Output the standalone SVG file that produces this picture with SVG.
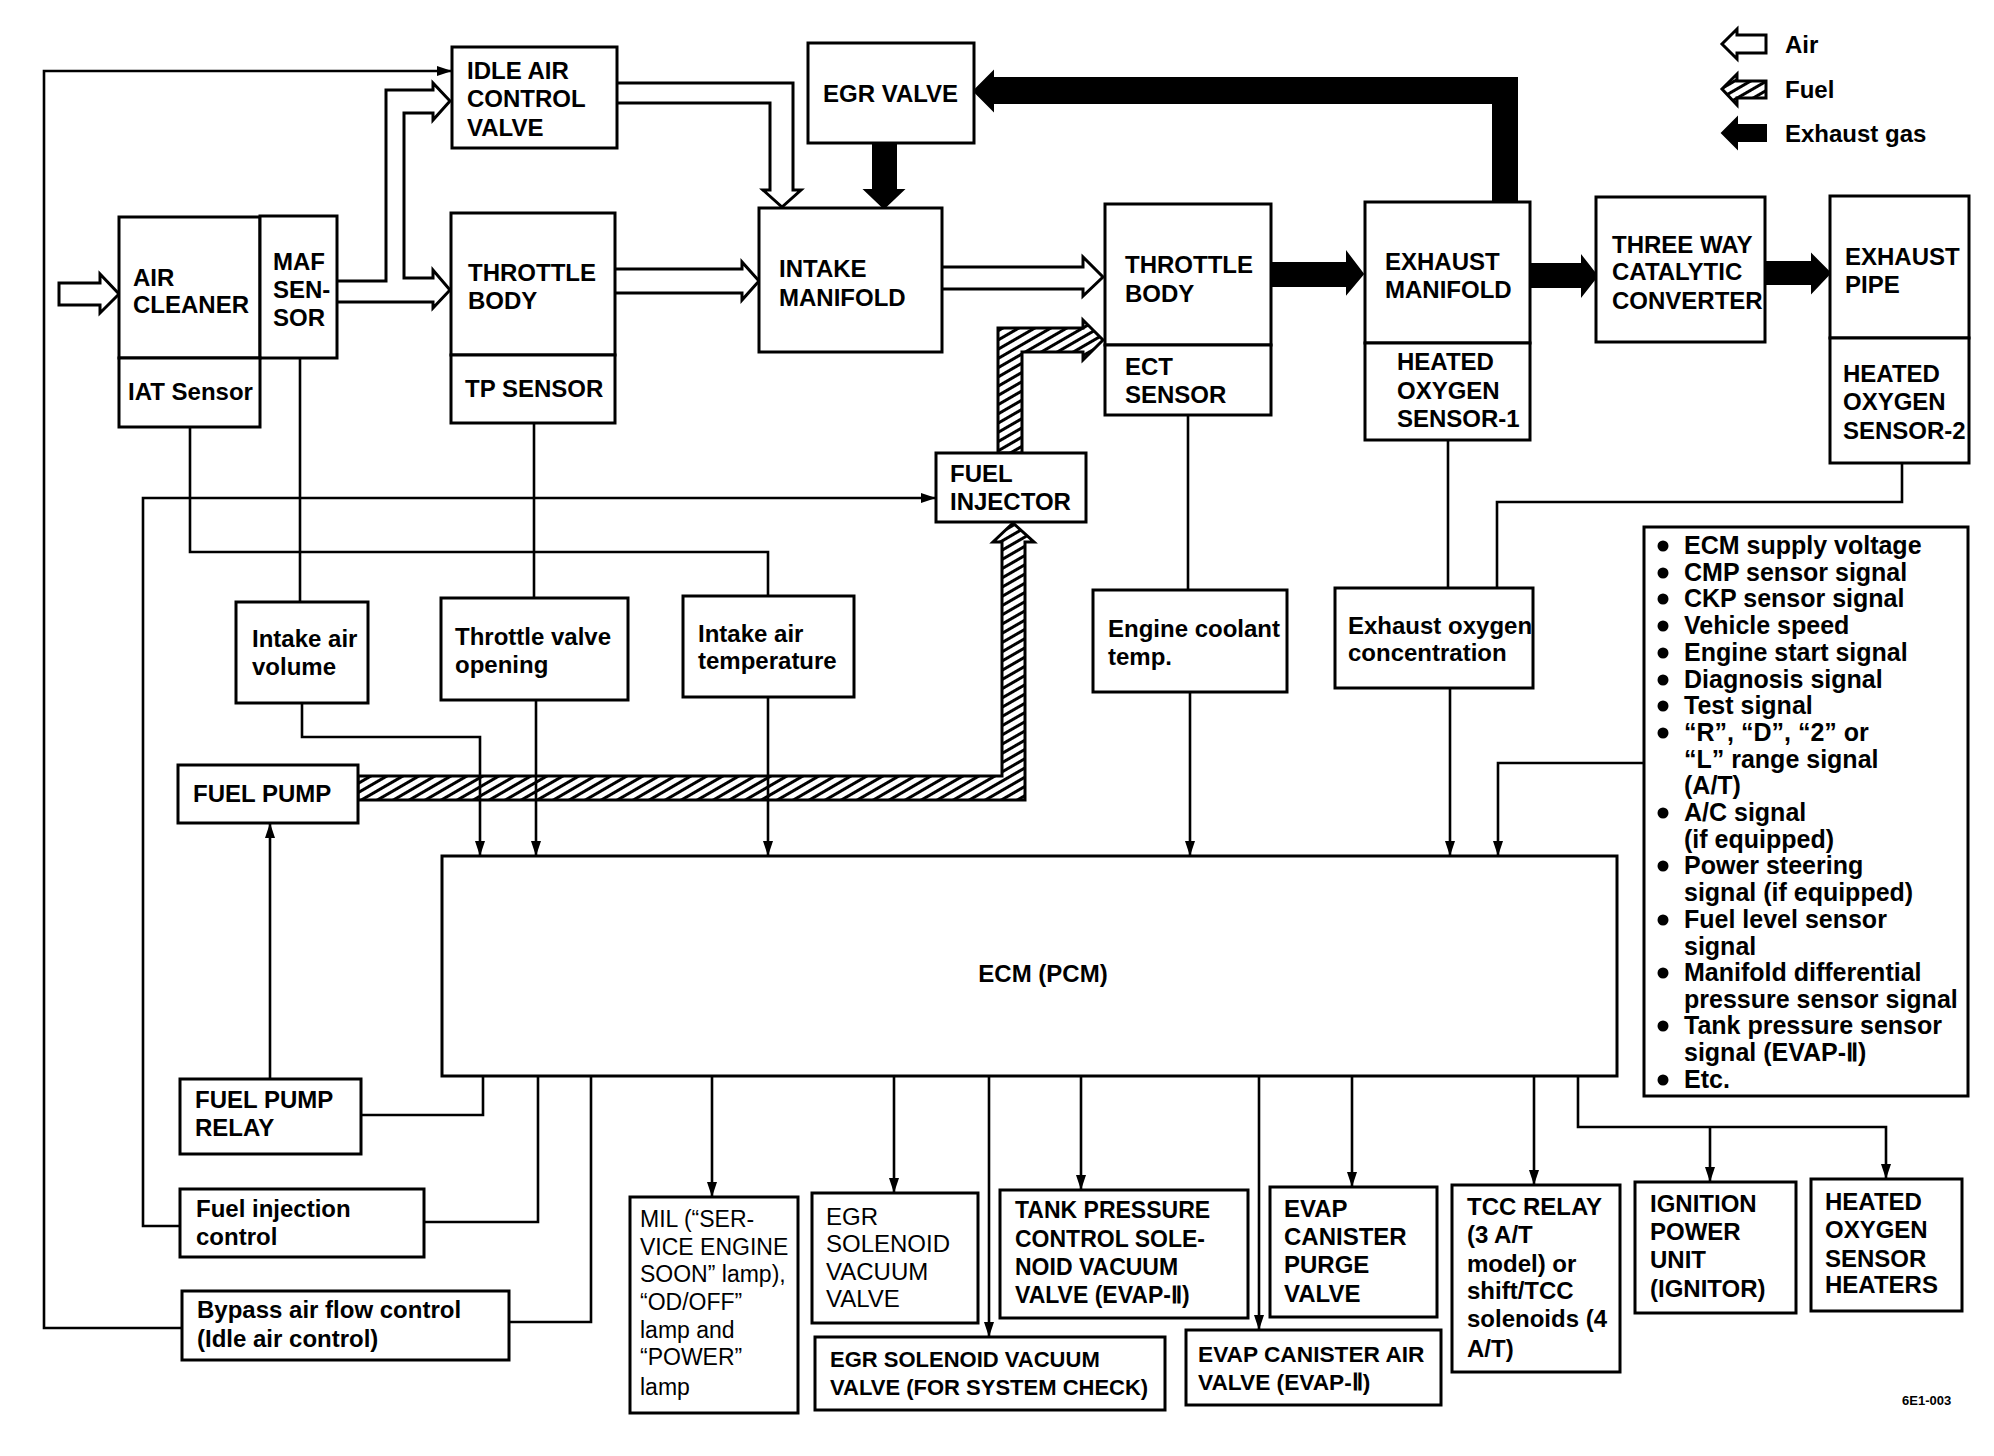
<svg xmlns="http://www.w3.org/2000/svg" width="1994" height="1456" viewBox="0 0 1994 1456">
<defs>
<style>
.box{fill:#fff;stroke:#000;stroke-width:3}
.ln{fill:none;stroke:#000;stroke-width:2.6}
.air{fill:#fff;stroke:#000;stroke-width:3;stroke-linejoin:miter}
.ex{fill:#000;stroke:#000;stroke-width:2}
.fuel{fill:url(#hatch);stroke:#000;stroke-width:3}
text{font-family:"Liberation Sans",Arial,sans-serif;font-size:24px;font-weight:bold;fill:#000}
.nw{font-weight:normal}
.s22{font-size:22px}
.s225{font-size:22.7px}
.s23{font-size:23px}
.bl{font-size:25px}
.code{font-size:13px}
</style>
<pattern id="hatch" patternUnits="userSpaceOnUse" width="8" height="8" patternTransform="rotate(-30)">
<rect width="8" height="8" fill="#fff"/><rect width="8" height="3" fill="#000"/>
</pattern>
<marker id="ah" markerUnits="userSpaceOnUse" markerWidth="15" markerHeight="10" refX="15" refY="5" orient="auto">
<path d="M0,0 L15,5 L0,10 z" fill="#000"/>
</marker>
</defs>
<rect width="1994" height="1456" fill="#fff"/>

<g id="connectors">
<!-- flow arrows -->
<path class="air" d="M59,283 H100 V274 L119,294 L100,313 V305 H59 Z"/>
<path class="air" d="M337,281 H386 V90 H433 V83 L450,101 L433,120 V113 H404 V278 H433 V270 L450,290 L433,308 V302 H337"/>
<path class="air" d="M617,83 H793 V190 H801 L782,207 L763,190 H770 V103 H617"/>
<path class="air" d="M615,269 H742 V262 L759,281 L742,300 V293 H615"/>
<path class="air" d="M942,267 H1083 V257 L1103,277 L1083,296 V289 H942"/>
<path class="ex" d="M873,143 V190 H865 L884,208 L903,190 H896 V143 Z"/>
<path class="ex" d="M1517,202 V78 H993 V72 L974,91 L993,110 V103 H1493 V202 Z"/>
<path class="ex" d="M1271,263 H1347 V253 L1363,274 L1347,293 V286 H1271 Z"/>
<path class="ex" d="M1530,264 H1582 V257 L1597,276 L1582,295 V287 H1530 Z"/>
<path class="ex" d="M1765,262 H1812 V255 L1830,273 L1812,292 V284 H1765 Z"/>
<path class="fuel" d="M358,776 H1002 V542 H993 L1013,523 L1034,542 H1025 V800 H358 Z"/>
<path class="fuel" d="M998,453 V328 H1083 V320 L1103,340 L1083,360 V352 H1022 V453 Z"/>
<!-- signal lines -->
<path class="ln" d="M182,1328 H44 V71 H452" marker-end="url(#ah)"/>
<path class="ln" d="M509,1322 H591 V1076"/>
<path class="ln" d="M190,427 V552 H768 V596"/>
<path class="ln" d="M300,357 V602"/>
<path class="ln" d="M302,703 V737 H480 V856" marker-end="url(#ah)"/>
<path class="ln" d="M534,423 V598"/>
<path class="ln" d="M536,700 V856" marker-end="url(#ah)"/>
<path class="ln" d="M768,697 V856" marker-end="url(#ah)"/>
<path class="ln" d="M180,1226 H143 V498 H936" marker-end="url(#ah)"/>
<path class="ln" d="M424,1222 H538 V1076"/>
<path class="ln" d="M270,1079 V823" marker-end="url(#ah)"/>
<path class="ln" d="M361,1115 H483 V1076"/>
<path class="ln" d="M1188,415 V590"/>
<path class="ln" d="M1190,692 V856" marker-end="url(#ah)"/>
<path class="ln" d="M1448,440 V588"/>
<path class="ln" d="M1450,688 V856" marker-end="url(#ah)"/>
<path class="ln" d="M1902,463 V502 H1497 V588"/>
<path class="ln" d="M1644,763 H1498 V856" marker-end="url(#ah)"/>
<path class="ln" d="M712,1076 V1197" marker-end="url(#ah)"/>
<path class="ln" d="M894,1076 V1193" marker-end="url(#ah)"/>
<path class="ln" d="M989,1076 V1337" marker-end="url(#ah)"/>
<path class="ln" d="M1081,1076 V1190" marker-end="url(#ah)"/>
<path class="ln" d="M1259,1076 V1330" marker-end="url(#ah)"/>
<path class="ln" d="M1352,1076 V1187" marker-end="url(#ah)"/>
<path class="ln" d="M1534,1076 V1185" marker-end="url(#ah)"/>
<path class="ln" d="M1578,1076 V1127 H1886 V1179" marker-end="url(#ah)"/>
<path class="ln" d="M1710,1127 V1182" marker-end="url(#ah)"/>
</g>

<g id="legend">
<path class="air" d="M1766,35 H1737 V29 L1722,44 L1737,59 V53 H1766 Z"/>
<text x="1785" y="53">Air</text>
<path class="fuel" d="M1766,81 H1737 V74 L1722,89 L1737,105 V98 H1766 Z"/>
<text x="1785" y="98">Fuel</text>
<path class="ex" d="M1766,125 H1737 V118 L1722,133 L1737,148 V141 H1766 Z"/>
<text x="1785" y="142">Exhaust gas</text>
</g>

<g id="n-idle"><rect class="box" x="452" y="47" width="165" height="101"/>
<text><tspan x="467" y="79">IDLE AIR</tspan><tspan x="467" y="107">CONTROL</tspan><tspan x="467" y="136">VALVE</tspan></text></g>

<g id="n-egr"><rect class="box" x="808" y="43" width="166" height="100"/>
<text x="823" y="102">EGR VALVE</text></g>

<g id="n-aircleaner"><rect class="box" x="119" y="217" width="141" height="141"/>
<text><tspan x="133" y="286">AIR</tspan><tspan x="133" y="313">CLEANER</tspan></text></g>
<g id="n-maf"><rect class="box" x="260" y="216" width="77" height="142"/>
<text><tspan x="273" y="270">MAF</tspan><tspan x="273" y="298">SEN-</tspan><tspan x="273" y="326">SOR</tspan></text></g>
<g id="n-iatsensor"><rect class="box" x="119" y="358" width="141" height="69"/>
<text x="128" y="400">IAT Sensor</text></g>

<g id="n-throttle1"><rect class="box" x="451" y="213" width="164" height="142"/>
<text><tspan x="468" y="281">THROTTLE</tspan><tspan x="468" y="309">BODY</tspan></text></g>
<g id="n-tpsensor"><rect class="box" x="451" y="355" width="164" height="68"/>
<text x="465" y="397">TP SENSOR</text></g>

<g id="n-intake"><rect class="box" x="759" y="208" width="183" height="144"/>
<text><tspan x="779" y="277">INTAKE</tspan><tspan x="779" y="306">MANIFOLD</tspan></text></g>

<g id="n-throttle2"><rect class="box" x="1105" y="204" width="166" height="141"/>
<text><tspan x="1125" y="273">THROTTLE</tspan><tspan x="1125" y="302">BODY</tspan></text></g>
<g id="n-ect"><rect class="box" x="1105" y="345" width="166" height="70"/>
<text><tspan x="1125" y="375">ECT</tspan><tspan x="1125" y="403">SENSOR</tspan></text></g>

<g id="n-exhman"><rect class="box" x="1365" y="202" width="165" height="141"/>
<text><tspan x="1385" y="270">EXHAUST</tspan><tspan x="1385" y="298">MANIFOLD</tspan></text></g>
<g id="n-ho2s1"><rect class="box" x="1365" y="343" width="165" height="97"/>
<text><tspan x="1397" y="370">HEATED</tspan><tspan x="1397" y="399">OXYGEN</tspan><tspan x="1397" y="427">SENSOR-1</tspan></text></g>

<g id="n-twc"><rect class="box" x="1596" y="197" width="169" height="145"/>
<text><tspan x="1612" y="253">THREE WAY</tspan><tspan x="1612" y="280">CATALYTIC</tspan><tspan x="1612" y="309">CONVERTER</tspan></text></g>

<g id="n-pipe"><rect class="box" x="1830" y="196" width="139" height="142"/>
<text><tspan x="1845" y="265">EXHAUST</tspan><tspan x="1845" y="293">PIPE</tspan></text></g>
<g id="n-ho2s2"><rect class="box" x="1830" y="338" width="139" height="125"/>
<text><tspan x="1843" y="382">HEATED</tspan><tspan x="1843" y="410">OXYGEN</tspan><tspan x="1843" y="439">SENSOR-2</tspan></text></g>

<g id="n-injector"><rect class="box" x="936" y="453" width="150" height="69"/>
<text><tspan x="950" y="482">FUEL</tspan><tspan x="950" y="510">INJECTOR</tspan></text></g>

<g id="n-iav"><rect class="box" x="236" y="602" width="132" height="101"/>
<text><tspan x="252" y="647">Intake air</tspan><tspan x="252" y="675">volume</tspan></text></g>
<g id="n-tvo"><rect class="box" x="441" y="598" width="187" height="102"/>
<text><tspan x="455" y="645">Throttle valve</tspan><tspan x="455" y="673">opening</tspan></text></g>
<g id="n-iat"><rect class="box" x="683" y="596" width="171" height="101"/>
<text><tspan x="698" y="642">Intake air</tspan><tspan x="698" y="669">temperature</tspan></text></g>
<g id="n-ectemp"><rect class="box" x="1093" y="590" width="194" height="102"/>
<text><tspan x="1108" y="637">Engine coolant</tspan><tspan x="1108" y="665">temp.</tspan></text></g>
<g id="n-exo"><rect class="box" x="1335" y="588" width="198" height="100"/>
<text><tspan x="1348" y="634">Exhaust oxygen</tspan><tspan x="1348" y="661">concentration</tspan></text></g>

<g id="n-signals"><rect class="box" x="1644" y="527" width="324" height="569"/>
<g fill="#000">
<circle cx="1663" cy="546" r="5.5"/><circle cx="1663" cy="573" r="5.5"/><circle cx="1663" cy="599" r="5.5"/><circle cx="1663" cy="626" r="5.5"/>
<circle cx="1663" cy="653" r="5.5"/><circle cx="1663" cy="680" r="5.5"/><circle cx="1663" cy="706" r="5.5"/><circle cx="1663" cy="733" r="5.5"/>
<circle cx="1663" cy="813" r="5.5"/><circle cx="1663" cy="866" r="5.5"/><circle cx="1663" cy="920" r="5.5"/><circle cx="1663" cy="973" r="5.5"/>
<circle cx="1663" cy="1026" r="5.5"/><circle cx="1663" cy="1080" r="5.5"/>
</g>
<text class="bl">
<tspan x="1684" y="554">ECM supply voltage</tspan>
<tspan x="1684" y="581">CMP sensor signal</tspan>
<tspan x="1684" y="607">CKP sensor signal</tspan>
<tspan x="1684" y="634">Vehicle speed</tspan>
<tspan x="1684" y="661">Engine start signal</tspan>
<tspan x="1684" y="688">Diagnosis signal</tspan>
<tspan x="1684" y="714">Test signal</tspan>
<tspan x="1684" y="741">“R”, “D”, “2” or</tspan>
<tspan x="1684" y="768">“L” range signal</tspan>
<tspan x="1684" y="794">(A/T)</tspan>
<tspan x="1684" y="821">A/C signal</tspan>
<tspan x="1684" y="848">(if equipped)</tspan>
<tspan x="1684" y="874">Power steering</tspan>
<tspan x="1684" y="901">signal (if equipped)</tspan>
<tspan x="1684" y="928">Fuel level sensor</tspan>
<tspan x="1684" y="955">signal</tspan>
<tspan x="1684" y="981">Manifold differential</tspan>
<tspan x="1684" y="1008">pressure sensor signal</tspan>
<tspan x="1684" y="1034">Tank pressure sensor</tspan>
<tspan x="1684" y="1061">signal (EVAP-Ⅱ)</tspan>
<tspan x="1684" y="1088">Etc.</tspan>
</text></g>

<g id="n-pump"><rect class="box" x="178" y="765" width="180" height="58"/>
<text x="193" y="802">FUEL PUMP</text></g>

<g id="n-ecm"><rect class="box" x="442" y="856" width="1175" height="220"/>
<text x="1043" y="982" text-anchor="middle">ECM (PCM)</text></g>

<g id="n-relay"><rect class="box" x="180" y="1079" width="181" height="75"/>
<text><tspan x="195" y="1108">FUEL PUMP</tspan><tspan x="195" y="1136">RELAY</tspan></text></g>
<g id="n-fic"><rect class="box" x="180" y="1189" width="244" height="68"/>
<text><tspan x="196" y="1217">Fuel injection</tspan><tspan x="196" y="1245">control</tspan></text></g>
<g id="n-bypass"><rect class="box" x="182" y="1291" width="327" height="69"/>
<text><tspan x="197" y="1318">Bypass air flow control</tspan><tspan x="197" y="1347">(Idle air control)</tspan></text></g>

<g id="n-mil"><rect class="box" x="630" y="1197" width="168" height="216"/>
<text class="nw s23"><tspan x="640" y="1227">MIL (“SER-</tspan><tspan x="640" y="1255">VICE ENGINE</tspan><tspan x="640" y="1282">SOON” lamp),</tspan><tspan x="640" y="1310">“OD/OFF”</tspan><tspan x="640" y="1338">lamp and</tspan><tspan x="640" y="1365">“POWER”</tspan><tspan x="640" y="1395">lamp</tspan></text></g>
<g id="n-egrsol"><rect class="box" x="812" y="1193" width="166" height="130"/>
<text class="nw"><tspan x="826" y="1225">EGR</tspan><tspan x="826" y="1252">SOLENOID</tspan><tspan x="826" y="1280">VACUUM</tspan><tspan x="826" y="1307">VALVE</tspan></text></g>
<g id="n-egrchk"><rect class="box" x="815" y="1337" width="350" height="73"/>
<text class="s22"><tspan x="830" y="1367">EGR SOLENOID VACUUM</tspan><tspan x="830" y="1395">VALVE (FOR SYSTEM CHECK)</tspan></text></g>
<g id="n-tank"><rect class="box" x="1000" y="1190" width="248" height="128"/>
<text class="s23"><tspan x="1015" y="1218">TANK PRESSURE</tspan><tspan x="1015" y="1247">CONTROL SOLE-</tspan><tspan x="1015" y="1275">NOID VACUUM</tspan><tspan x="1015" y="1303">VALVE (EVAP-Ⅱ)</tspan></text></g>
<g id="n-purge"><rect class="box" x="1270" y="1187" width="167" height="130"/>
<text><tspan x="1284" y="1217">EVAP</tspan><tspan x="1284" y="1245">CANISTER</tspan><tspan x="1284" y="1273">PURGE</tspan><tspan x="1284" y="1302">VALVE</tspan></text></g>
<g id="n-evapair"><rect class="box" x="1186" y="1330" width="255" height="75"/>
<text class="s225"><tspan x="1198" y="1362">EVAP CANISTER AIR</tspan><tspan x="1198" y="1390">VALVE (EVAP-Ⅱ)</tspan></text></g>
<g id="n-tcc"><rect class="box" x="1452" y="1185" width="168" height="187"/>
<text><tspan x="1467" y="1215">TCC RELAY</tspan><tspan x="1467" y="1243">(3 A/T</tspan><tspan x="1467" y="1272">model) or</tspan><tspan x="1467" y="1299">shift/TCC</tspan><tspan x="1467" y="1327">solenoids (4</tspan><tspan x="1467" y="1357">A/T)</tspan></text></g>
<g id="n-ign"><rect class="box" x="1635" y="1182" width="161" height="131"/>
<text><tspan x="1650" y="1212">IGNITION</tspan><tspan x="1650" y="1240">POWER</tspan><tspan x="1650" y="1268">UNIT</tspan><tspan x="1650" y="1297">(IGNITOR)</tspan></text></g>
<g id="n-heaters"><rect class="box" x="1811" y="1179" width="151" height="132"/>
<text><tspan x="1825" y="1210">HEATED</tspan><tspan x="1825" y="1238">OXYGEN</tspan><tspan x="1825" y="1267">SENSOR</tspan><tspan x="1825" y="1293">HEATERS</tspan></text></g>

<text class="code" x="1902" y="1405">6E1-003</text>
</svg>
